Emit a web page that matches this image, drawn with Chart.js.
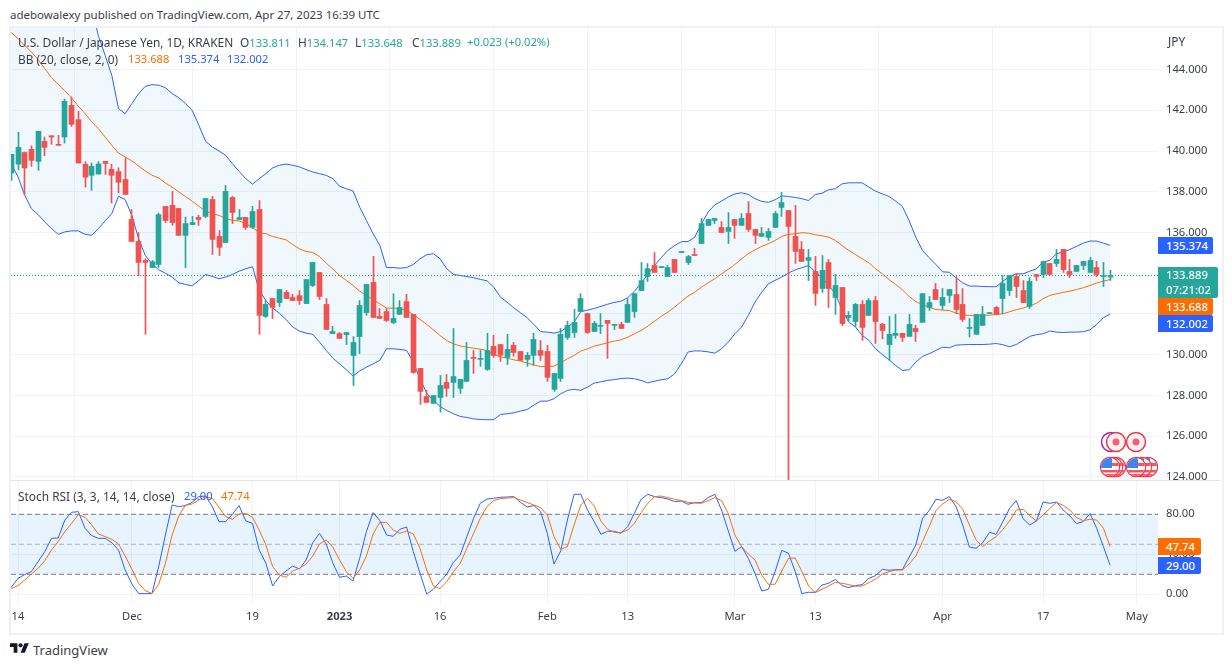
<!DOCTYPE html>
<html lang="en">
<head>
  <meta charset="UTF-8" />
  <title>USD/JPY 1D</title>
  <script src="https://cdn.jsdelivr.net/npm/chart.js"></script>
  <style>
    html, body { margin: 0; padding: 0; background: #fff; }
    body { width: 1232px; height: 668px; position: relative; overflow: hidden; font-family: "Noto Sans", sans-serif; color: #3a3e4a; }
    #frame { position: absolute; left: 9px; top: 26px; width: 1211px; height: 605px; border: 2px solid #eff1f6; }
    #divider { position: absolute; left: 11px; top: 480px; width: 1209px; height: 1px; background: #e3e4ee; z-index: 3; }
    #mainPane { position: absolute; left: 11px; top: 28px; width: 1209px; height: 452px; }
    #rsiPane { position: absolute; left: 11px; top: 481px; width: 1209px; height: 150px; }
    .txt { position: absolute; font-size: 11.9px; line-height: 16px; white-space: nowrap; z-index: 4; }
    .teal, .orange, .blue { font-size: 11.2px; }
    .teal { color: #26a69a; }
    .orange { color: #ff6d00; }
    .blue { color: #2962ff; }
    .tag { position: absolute; left: 1158px; color: #fff; font-size: 11.3px; font-weight: 500; padding-left: 8px; box-sizing: border-box; border-radius: 0 2px 2px 0; z-index: 5; line-height: 15px; }
    #icons { position: absolute; left: 1090px; top: 425px; z-index: 2; }
    #logo { position: absolute; left: 10px; top: 641px; }
  </style>
</head>
<body>
  <div class="txt" style="left:10px;top:7px;font-size:11.5px;">adebowalexy published on TradingView.com, Apr 27, 2023 16:39 UTC</div>

  <div id="frame"></div>
  <div id="mainPane"><canvas id="priceChart"></canvas></div>
  <div id="divider"></div>
  <div id="rsiPane"><canvas id="stochChart"></canvas></div>

  <!-- Legends -->
  <div class="txt" style="left:18px;top:34px;">U.S. Dollar / Japanese Yen, 1D, KRAKEN</div>
  <div class="txt" style="left:240px;top:34px;">O<span class="teal">133.811</span></div>
  <div class="txt" style="left:298px;top:34px;">H<span class="teal">134.147</span></div>
  <div class="txt" style="left:355px;top:34px;">L<span class="teal">133.648</span></div>
  <div class="txt" style="left:412px;top:34px;">C<span class="teal">133.889</span></div>
  <div class="txt teal" style="left:467px;top:34px;">+0.023 (+0.02%)</div>
  <div class="txt" style="left:18px;top:51px;">BB (20, close, 2, 0)</div>
  <div class="txt orange" style="left:128px;top:51px;">133.688</div>
  <div class="txt blue" style="left:178px;top:51px;">135.374</div>
  <div class="txt blue" style="left:227px;top:51px;">132.002</div>
  <div class="txt" style="left:18px;top:488px;">Stoch RSI (3, 3, 14, 14, close)</div>
  <div class="txt blue" style="left:184px;top:488px;">29.00</div>
  <div class="txt orange" style="left:221px;top:488px;">47.74</div>
  <div class="txt" style="left:1168px;top:33px;">JPY</div>

  <!-- Price tags on the right axis -->
  <div class="tag" style="top:237px;height:17px;width:55px;background:#2962ff;line-height:17px;">135.374</div>
  <div class="tag" style="top:267px;height:31px;width:60px;background:#26a69a;">133.889<br>07:21:02</div>
  <div class="tag" style="top:298px;height:17px;width:55px;background:#ff6d00;line-height:17px;">133.688</div>
  <div class="tag" style="top:315px;height:17px;width:55px;background:#2962ff;line-height:17px;">132.002</div>
  <div class="tag" style="top:538px;height:17px;width:43px;background:#ff6d00;line-height:17px;">47.74</div>
  <div class="tag" style="top:557px;height:17px;width:43px;background:#2962ff;line-height:17px;">29.00</div>

  <!-- Event markers -->
  <svg id="icons" width="68" height="54" viewBox="0 0 68 54">
    <defs>
      <clipPath id="disc"><circle cx="0" cy="0" r="9"/></clipPath>
      <g id="flag">
        <circle r="9.5" fill="#fff" stroke="#f23645" stroke-width="1.5"/>
        <g clip-path="url(#disc)">
          <rect x="-9" y="-9" width="18" height="18" fill="#fff"/>
          <rect x="2" y="-4" width="8" height="3" fill="#f7525f"/>
          <rect x="-9" y="3" width="18" height="2.5" fill="#f7525f"/>
          <rect x="-9" y="7" width="18" height="2" fill="#f7525f"/>
          <rect x="-9" y="-9" width="11" height="10" fill="#3b86f0"/>
        </g>
      </g>
      <g id="dot">
        <circle r="9.5" fill="#f2f3f8" stroke="#f23645" stroke-width="1.5"/>
        <circle r="3.5" fill="#ff5a6a"/>
      </g>
    </defs>
    <circle cx="21" cy="17" r="9.5" fill="#fff" stroke="#9c27b0" stroke-width="1.5"/>
    <use href="#dot" x="26" y="17"/>
    <use href="#dot" x="46" y="17"/>
    <use href="#flag" x="26" y="42"/>
    <use href="#flag" x="23" y="42"/>
    <use href="#flag" x="20" y="42"/>
    <use href="#flag" x="58" y="42"/>
    <use href="#flag" x="52" y="42"/>
    <use href="#flag" x="46" y="42"/>
  </svg>

  <!-- Logo -->
  <svg id="logo" width="19" height="15" viewBox="0 0 36 28"><path fill="#131722" d="M14 22H7V11H0V4h14v18zM28 22h-8l7.5-18h8L28 22z"/><circle cx="20" cy="8" r="4" fill="#131722"/></svg>
  <div class="txt" style="left:33px;top:642px;font-size:13px;">TradingView</div>

  <script>
    // Daily candles, first entry sits just left of the visible range
    const opens = [
      139.30,138.92,139.36,139.93,140.08,139.49,140.47,140.75,140.33,140.69,
      142.24,141.54,139.35,138.81,138.87,139.49,139.10,138.99,138.60,136.64,
      135.56,134.63,134.28,134.43,137.28,137.33,137.18,135.86,136.39,136.74,
      136.79,137.62,135.81,135.51,137.72,136.64,136.74,136.25,137.13,131.88,
      132.76,132.56,133.06,132.81,132.90,132.51,133.40,134.04,132.47,131.04,
      131.04,130.99,129.96,130.89,132.07,133.55,131.88,132.12,131.58,131.98,
      132.61,131.98,129.33,127.95,127.61,127.90,128.64,128.64,128.35,128.69,
      129.87,129.77,129.28,130.41,130.50,129.87,130.46,130.16,129.77,129.97,
      130.21,130.16,128.30,128.84,130.85,131.09,132.12,132.02,131.14,131.39,
      131.69,131.44,131.49,131.59,132.12,133.15,133.84,134.38,134.28,133.84,
      134.68,135.02,134.53,134.92,135.46,136.35,136.59,136.25,136.05,136.64,
      136.35,136.93,136.15,135.81,135.76,136.25,137.23,137.08,135.81,135.17,
      134.63,134.09,133.25,134.53,132.81,133.30,131.83,131.63,132.47,131.93,
      132.66,131.49,130.50,130.95,131.05,130.90,131.29,131.59,132.32,133.20,
      132.42,132.91,132.96,132.47,131.29,131.00,131.44,132.02,132.32,132.76,
      133.15,133.84,133.15,132.37,133.94,133.94,134.48,134.48,135.17,134.09,
      134.09,134.38,134.04,134.28,133.84,133.811
    ];
    const highs = [
      139.60,139.84,140.92,139.95,140.26,140.97,140.69,140.75,140.77,142.55,
      142.65,141.95,139.48,139.41,139.48,139.49,139.35,139.18,139.66,137.13,
      136.00,134.71,134.63,136.95,137.28,138.02,137.18,136.76,136.79,136.84,
      137.67,137.77,136.10,138.31,137.77,137.13,136.74,137.28,137.57,132.66,
      132.76,133.20,133.15,132.96,133.15,133.69,134.53,134.04,132.76,131.39,
      131.09,131.09,130.89,132.66,133.45,134.83,132.27,132.27,133.00,132.66,
      132.96,131.98,129.33,128.25,128.00,128.98,129.03,131.29,128.79,130.60,
      130.21,130.21,131.05,130.95,130.50,131.00,130.60,130.16,130.11,131.05,
      130.70,130.46,129.08,131.29,131.64,132.23,133.00,132.02,131.64,132.02,
      131.69,131.49,131.59,132.76,133.00,134.53,134.48,135.02,134.33,134.38,
      134.68,135.07,134.87,135.22,136.69,136.64,136.69,136.54,136.98,136.64,
      136.93,137.52,136.15,136.25,136.20,137.03,137.97,137.08,137.33,135.56,
      135.17,134.83,134.87,134.68,133.94,133.30,132.12,132.52,132.66,132.76,
      132.86,131.54,131.88,131.98,131.05,131.98,131.44,133.00,132.86,133.50,
      133.25,133.20,133.84,133.25,131.78,131.98,132.37,132.07,132.37,133.89,
      133.89,133.99,133.64,133.79,133.94,134.58,134.48,135.17,135.17,134.68,
      134.38,134.58,134.78,134.58,134.53,134.147
    ];
    const lows = [
      138.90,138.56,139.08,137.85,139.25,139.05,139.77,140.33,140.28,140.39,
      141.21,139.41,138.23,138.07,138.87,138.85,137.45,137.94,137.87,135.56,
      133.88,131.00,134.28,134.28,136.49,136.35,135.86,134.28,136.39,136.35,
      136.74,134.92,134.87,135.51,136.44,136.64,136.15,136.20,131.00,131.83,
      131.78,132.37,132.76,132.66,132.47,132.51,133.35,132.71,131.24,131.04,
      130.80,130.50,128.49,130.06,131.93,131.83,131.78,131.63,131.53,131.98,
      131.83,129.08,127.56,127.66,127.61,127.18,127.95,127.90,128.10,128.69,
      129.08,129.43,129.23,129.87,129.67,129.52,129.92,129.72,129.43,129.48,
      129.72,128.69,128.20,128.69,130.75,130.85,132.12,131.04,131.14,131.04,
      129.82,131.24,131.29,131.59,131.83,133.15,133.60,134.04,134.28,133.84,
      134.04,135.02,134.43,134.87,135.46,136.35,136.44,136.00,135.46,135.71,
      136.35,136.05,135.46,135.81,135.61,136.25,136.79,123.50,134.48,134.58,
      133.64,132.42,133.06,132.32,131.98,131.43,131.63,131.39,130.70,131.93,
      130.55,130.78,129.72,130.80,130.65,130.90,130.65,131.59,132.17,132.71,
      132.22,132.56,132.02,131.63,130.87,131.00,131.44,132.02,131.98,132.02,
      132.91,132.81,132.56,132.27,133.64,133.79,133.94,134.33,134.04,133.79,
      134.09,134.18,134.04,133.84,133.35,133.648
    ];
    const closes = [
      139.00,139.84,140.18,139.17,139.54,140.97,140.18,140.69,140.28,142.44,
      141.31,139.41,138.72,139.25,139.36,139.39,138.81,138.47,137.87,135.56,
      134.53,134.53,134.56,136.88,136.59,136.49,135.86,136.44,136.49,136.64,
      137.67,135.66,135.27,138.02,136.98,136.74,136.25,137.03,131.93,132.47,
      132.32,133.20,132.76,132.66,132.66,133.69,134.53,132.86,131.24,131.14,
      130.80,131.09,130.60,132.42,133.45,131.83,131.78,131.68,131.78,132.32,
      131.83,129.13,128.20,127.66,128.00,128.49,128.35,128.93,128.79,129.72,
      129.82,129.82,130.21,129.97,129.97,130.26,130.11,129.72,129.97,130.75,
      129.97,128.89,129.08,131.00,131.44,131.59,132.76,131.09,131.54,131.44,
      131.54,131.49,131.29,132.47,133.00,133.64,134.23,134.04,134.33,134.28,
      134.04,135.07,134.82,134.87,136.44,136.64,136.69,136.00,136.25,136.35,
      136.69,136.15,135.86,135.95,136.05,136.93,137.47,136.30,135.07,134.58,
      134.77,133.01,134.14,133.25,133.40,131.53,131.93,132.47,131.34,132.66,
      131.63,131.19,131.00,131.05,130.85,131.49,131.14,133.00,132.56,132.71,
      132.81,133.20,132.22,131.73,131.34,131.98,131.98,132.07,131.98,133.50,
      133.89,133.35,132.56,133.60,133.84,134.58,133.94,134.68,134.18,133.94,
      134.38,134.58,134.63,133.94,133.89,133.889
    ];

    // Bollinger Bands (20, close, 2)
    const bbUpper = [
      152.20,152.24,152.31,152.55,152.55,152.10,151.58,151.01,150.65,149.87,
      149.14,148.32,147.77,147.00,145.66,144.70,143.72,142.08,141.84,142.33,
      142.82,143.18,143.26,143.23,143.11,142.82,142.62,142.33,142.00,141.26,
      140.48,140.20,140.00,139.79,139.38,139.00,138.64,138.38,138.64,138.89,
      139.17,139.30,139.36,139.30,139.22,139.09,138.97,138.89,138.81,138.64,
      138.27,138.15,138.04,137.25,136.59,135.94,135.37,134.28,134.28,134.25,
      134.28,134.43,134.71,134.91,134.96,134.71,134.22,133.94,133.89,133.84,
      133.78,133.70,133.63,133.32,132.83,132.58,132.30,132.06,131.81,131.49,
      131.13,131.11,131.06,131.14,131.36,131.60,132.12,132.19,132.27,132.37,
      132.48,132.57,132.63,132.80,133.11,133.52,133.94,134.38,134.76,135.12,
      135.36,135.55,135.56,135.77,136.43,137.00,137.36,137.54,137.74,137.90,
      137.95,137.87,137.66,137.53,137.48,137.61,137.80,137.77,137.72,137.66,
      137.57,137.87,137.93,138.10,138.15,138.39,138.44,138.44,138.44,138.23,
      138.03,137.90,137.77,137.54,137.28,136.59,135.77,135.12,134.76,134.43,
      134.07,134.05,133.78,133.53,133.37,133.37,133.35,133.34,133.34,133.61,
      133.84,133.97,133.97,134.10,134.22,134.55,134.63,134.96,135.04,135.17,
      135.32,135.48,135.58,135.58,135.48,135.374
    ];
    const bbBasis = [
      146.05,145.81,145.52,145.19,144.86,144.49,144.05,143.60,143.28,142.95,
      142.61,142.20,141.84,141.43,141.10,140.69,140.28,139.90,139.71,139.51,
      139.27,139.02,138.81,138.68,138.43,138.23,137.99,137.77,137.53,137.29,
      137.04,136.93,136.84,136.68,136.60,136.57,136.44,136.24,135.99,135.94,
      135.81,135.72,135.64,135.41,135.20,135.07,135.02,134.82,134.50,134.20,
      133.89,133.65,133.40,133.12,132.91,132.70,132.50,132.29,132.29,132.27,
      132.17,131.98,131.73,131.49,131.22,130.94,130.70,130.53,130.43,130.37,
      130.32,130.27,130.21,130.00,129.90,129.83,129.75,129.69,129.59,129.49,
      129.42,129.42,129.44,129.60,129.80,129.96,130.18,130.29,130.42,130.50,
      130.59,130.67,130.73,130.86,131.03,131.19,131.40,131.65,131.88,132.09,
      132.34,132.61,132.88,133.07,133.32,133.53,133.73,133.97,134.19,134.43,
      134.71,134.96,135.15,135.32,135.45,135.61,135.81,135.91,135.94,135.99,
      135.97,135.89,135.84,135.77,135.61,135.36,135.12,134.92,134.71,134.51,
      134.22,133.97,133.69,133.45,133.19,132.86,132.61,132.45,132.33,132.22,
      132.19,132.17,132.04,131.96,131.93,131.91,131.93,131.94,131.98,132.01,
      132.11,132.21,132.29,132.39,132.53,132.75,132.91,132.99,133.06,133.12,
      133.20,133.29,133.40,133.52,133.61,133.688
    ];
    const bbLower = [
      140.00,139.38,138.73,137.83,137.17,136.88,136.52,136.19,135.91,136.03,
      136.08,136.08,135.91,135.86,136.19,136.57,136.93,137.78,137.61,136.84,
      135.69,134.87,134.46,134.17,134.00,133.81,133.53,133.45,133.38,133.65,
      133.94,133.84,133.73,133.81,133.94,134.10,134.22,134.32,133.16,132.66,
      132.30,132.04,131.73,131.36,131.16,131.06,131.00,130.62,130.21,129.83,
      129.55,129.26,128.95,129.20,129.39,129.55,129.72,130.29,130.29,130.26,
      130.21,129.64,128.82,128.11,127.75,127.46,127.26,127.10,126.97,126.92,
      126.85,126.82,126.81,126.81,127.07,127.10,127.15,127.23,127.31,127.53,
      127.72,127.72,127.84,128.08,128.25,128.30,128.25,128.41,128.61,128.67,
      128.74,128.78,128.83,128.85,128.82,128.74,128.62,128.70,128.77,128.82,
      129.06,129.55,130.13,130.19,130.18,130.14,130.08,130.29,130.62,131.03,
      131.36,131.93,132.58,133.07,133.48,133.65,133.81,134.01,134.17,134.27,
      134.38,134.06,133.78,133.40,132.99,132.20,131.60,131.36,130.95,130.70,
      130.29,130.01,129.75,129.47,129.23,129.26,129.64,129.92,130.05,130.21,
      130.37,130.34,130.47,130.49,130.50,130.50,130.50,130.52,130.55,130.49,
      130.39,130.50,130.70,130.90,130.98,131.03,131.16,131.11,131.09,131.11,
      131.11,131.13,131.22,131.49,131.81,132.002
    ];

    // Stochastic RSI lines
    const stochK = [
      3.0,7.0,16.0,19.7,22.7,32.7,42.7,56.0,56.3,74.3,
      82.0,82.7,66.0,58.7,56.0,56.0,51.7,44.3,24.3,10.3,
      0.7,0.7,0.7,27.7,59.3,89.3,87.7,88.7,92.0,97.7,
      98.3,87.7,72.7,72.7,80.0,88.7,73.3,71.0,44.3,31.0,
      8.3,17.7,23.3,28.3,25.3,34.3,51.7,61.0,50.3,31.0,
      17.0,18.3,13.3,36.0,62.7,81.7,73.7,59.3,58.0,65.0,
      67.3,42.7,21.0,0.3,5.0,12.7,20.3,32.0,39.3,57.7,
      76.0,91.0,95.3,96.0,97.0,97.3,97.7,92.0,87.3,88.7,
      82.7,61.0,30.3,43.3,74.3,100,100,84.3,72.7,60.0,
      63.0,63.0,61.0,67.7,81.0,95.0,100,97.7,96.7,95.3,
      92.7,93.3,90.0,91.7,91.7,96.7,100,84.3,63.7,43.0,
      47.7,36.0,21.0,3.3,5.0,22.7,44.0,41.0,22.7,0.7,
      2.0,2.0,9.3,11.0,15.0,8.7,6.7,8.7,9.7,16.0,
      18.7,25.0,24.0,24.7,24.7,37.0,49.3,76.0,83.7,95.0,
      94.0,97.7,87.7,69.3,47.3,46.0,51.7,62.0,60.0,72.7,
      86.0,93.7,75.7,69.3,73.3,92.3,91.0,92.3,84.3,78.3,
      70.7,72.7,80.7,66.0,47.7,29.0
    ];
    const stochD = [
      4.0,5.7,8.7,14.3,20.3,26.0,33.7,44.3,52.7,62.7,
      71.0,79.7,77.0,69.3,60.3,57.7,55.0,50.3,38.3,25.0,
      11.0,3.7,0.7,10.0,31.0,59.3,78.3,89.3,90.3,94.3,
      97.7,96.0,87.0,77.7,75.0,80.3,81.0,77.0,64.3,49.3,
      27.7,19.3,17.0,23.3,26.0,30.3,38.3,50.3,54.3,47.0,
      34.3,22.7,16.0,24.3,38.3,60.3,72.0,72.0,64.3,61.0,
      63.3,60.3,46.0,24.3,8.3,5.7,12.7,22.7,31.0,46.0,
      61.0,76.0,87.7,93.7,95.7,96.3,96.7,94.3,91.7,89.3,
      86.7,79.3,57.7,45.0,47.7,69.3,89.3,96.0,88.3,73.3,
      65.0,62.0,61.7,64.3,71.0,81.7,91.0,97.7,98.3,96.7,
      95.0,93.7,92.0,91.3,91.0,93.7,96.7,93.7,81.0,59.3,
      47.7,40.3,34.3,19.3,10.0,10.0,23.3,36.0,36.3,22.7,
      8.3,1.7,5.0,8.3,12.0,11.0,9.7,8.0,8.3,11.7,
      15.3,20.3,22.7,24.3,24.3,30.3,38.3,52.7,67.7,83.7,
      90.3,95.0,92.7,85.0,69.3,54.3,47.7,53.3,57.7,65.0,
      73.3,84.3,85.0,78.7,73.3,79.3,86.0,91.7,89.0,84.3,
      76.7,73.7,75.0,74.3,66.0,47.74
    ];

    // Axis ticks and time labels, positions are bar numbers
    const priceTicks = [124, 126, 128, 130, 132, 134, 136, 138, 140, 142, 144];
    const stochTicks = [0, 40, 80];
    const stochLevels = [80, 50, 20];
    const timeTickBars = [0, 17, 35, 48, 63, 79, 91, 107, 119, 138, 153, 167];
    const timeTickLabels = ['14', 'Dec', '19', '2023', '16', 'Feb', '13', 'Mar', '13', 'Apr', '17', 'May'];

    const GREEN = '#26a69a', RED = '#ef5350', BLUE = '#2962ff', ORANGE = '#ff6d00';
    const GRID = '#f0f3fa', AXIS_FONT = { family: '"Noto Sans", sans-serif', size: 11.2 };

    // one bar = 6.7px, plot starts at x=11 and ends at x=1158, bar 0 is at x=18
    const xMin = (11 - 18) / 6.7, xMax = (1158 - 18) / 6.7;
    const barNo = closes.map((_, n) => n - 2);
    const candleColors = closes.map((c, n) => c >= opens[n] ? GREEN : RED);
    const toPoints = arr => arr.map((v, n) => ({ x: barNo[n], y: v }));
    const hline = v => [{ x: xMin, y: v }, { x: xMax, y: v }];

    const line = (data, color, extra) => Object.assign({
      type: 'line', data, borderColor: color, borderWidth: 1, pointRadius: 0, tension: 0, fill: false, order: 5
    }, extra);

    // snap candles to whole pixels so wicks stay 1px sharp
    const snapBars = {
      id: 'snapBars',
      afterDatasetsUpdate(chart) {
        chart.data.datasets.forEach((ds, k) => {
          if (ds.type === 'line') return;
          chart.getDatasetMeta(k).data.forEach(el => { el.x = Math.floor(el.x) + 0.5; });
        });
      }
    };

    const xAxis = showLabels => ({
      type: 'linear', min: xMin, max: xMax, offset: false,
      afterBuildTicks: s => { s.ticks = timeTickBars.map(v => ({ value: v })); },
      afterFit: s => { s.height = showLabels ? 26 : 0; s.paddingLeft = 0; s.paddingRight = 0; },
      border: { display: false },
      grid: { color: GRID, drawTicks: false },
      ticks: {
        display: showLabels, padding: 5, maxRotation: 0, autoSkip: false, color: '#3a3e4a',
        font: c => c.tick && c.tick.label === '2023' ? Object.assign({}, AXIS_FONT, { weight: 'bold' }) : AXIS_FONT,
        callback: v => timeTickLabels[timeTickBars.indexOf(v)]
      }
    });

    const yAxis = (lo, hi, ticks, decimals) => ({
      position: 'right', min: lo, max: hi,
      afterBuildTicks: s => { s.ticks = ticks.map(v => ({ value: v })); },
      // keep the pane full height, labels may touch its edges
      afterFit: s => { s.width = 62; s.paddingTop = 0; s.paddingBottom = 0; },
      border: { display: false },
      grid: { color: GRID, drawTicks: false },
      ticks: { padding: 8, color: '#3a3e4a', font: AXIS_FONT, callback: v => v.toFixed(decimals) }
    });

    const baseOptions = {
      responsive: false, animation: false, events: [],
      layout: { padding: 0 },
      plugins: { legend: { display: false }, tooltip: { enabled: false }, filler: { drawTime: 'beforeDatasetsDraw' } }
    };

    function sizeCanvas(id, w, h) {
      const c = document.getElementById(id);
      c.width = w; c.height = h;
      return c;
    }

    new Chart(sizeCanvas('priceChart', 1209, 452), {
      type: 'bar',
      data: {
        datasets: [
          line(toPoints(bbUpper), BLUE, { fill: '+1', backgroundColor: 'rgba(33,150,243,0.065)' }),
          line(toPoints(bbLower), BLUE),
          line(toPoints(bbBasis), ORANGE),
          line(hline(closes[closes.length - 1]), '#1f9488', { borderDash: [1, 2], order: 4 }),
          {
            label: 'wick', order: 2, grouped: false, barThickness: 1, backgroundColor: candleColors,
            data: barNo.map((x, n) => ({ x, y: [lows[n], highs[n]] }))
          },
          {
            label: 'body', order: 1, grouped: false, barThickness: 5, minBarLength: 1, backgroundColor: candleColors,
            data: barNo.map((x, n) => ({ x, y: [opens[n], closes[n]] }))
          }
        ]
      },
      options: Object.assign({}, baseOptions, {
        scales: { x: xAxis(false), y: yAxis(123.85, 146.04, priceTicks, 3) }
      }),
      plugins: [snapBars]
    });

    new Chart(sizeCanvas('stochChart', 1209, 150), {
      type: 'line',
      data: {
        datasets: [
          line(hline(stochLevels[0]), '#787b86', { borderDash: [5, 3], fill: '+1', backgroundColor: 'rgba(33,150,243,0.11)', order: 6 }),
          line(hline(stochLevels[2]), '#787b86', { borderDash: [5, 3], order: 6 }),
          line(hline(stochLevels[1]), 'rgba(120,123,134,0.55)', { borderDash: [5, 3], order: 6 }),
          line(toPoints(stochD), ORANGE, { order: 3 }),
          line(toPoints(stochK), BLUE, { order: 4 })
        ]
      },
      options: Object.assign({}, baseOptions, {
        scales: { x: xAxis(true), y: yAxis(-10.7, 113.3, stochTicks, 2) }
      })
    });
  </script>
</body>
</html>
